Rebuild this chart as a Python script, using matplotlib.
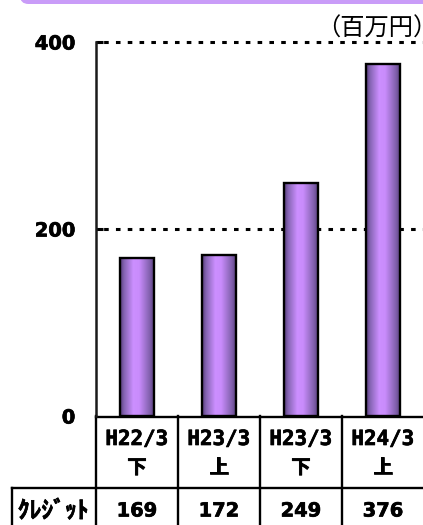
import numpy as np
import matplotlib
matplotlib.use("Agg")
import matplotlib.pyplot as plt
import matplotlib.patheffects as pe
from matplotlib.colors import LinearSegmentedColormap
from matplotlib.patches import FancyBboxPatch
from matplotlib.transforms import blended_transform_factory

plt.rcParams["lines.scale_dashes"] = False

# ---- data ----
periods = ["H22/3", "H23/3", "H23/3", "H24/3"]
halves = ["下", "上", "下", "上"]
credit = [169, 172, 249, 376]
row_label = "ｸﾚｼﾞｯﾄ"
unit_label = "（百万円）"
y_ticks = [0, 200, 400]

W, H = 423, 525
fig = plt.figure(figsize=(W / 100, H / 100), dpi=100)

SANS = "DejaVu Sans"
heavy = [pe.withStroke(linewidth=0.5, foreground="black")]

def yf(y):
    """pixel row (from top) -> figure fraction"""
    return 1 - y / H

# header band across the top
band = FancyBboxPatch((20 / W, yf(4)), 1.0, 20 / H,
                      boxstyle="round,pad=0,rounding_size=0.02",
                      transform=fig.transFigure, facecolor="#C99CF8",
                      edgecolor="none", clip_on=False, mutation_aspect=W / H)
fig.patches.append(band)

# plotting area
ax_left, ax_right, ax_top, ax_bottom = 96, 424, 42, 416
ax = fig.add_axes([ax_left / W, 1 - ax_bottom / H,
                   (ax_right - ax_left) / W, (ax_bottom - ax_top) / H])
ax.patch.set_visible(False)
for s in ["top", "right", "bottom"]:
    ax.spines[s].set_visible(False)
ax.spines["left"].set_linewidth(1.8)
ax.spines["left"].set_color("#1a1a1a")

ax.set_xticks([])
ax.set_yticks(y_ticks)
ax.set_yticklabels([str(v) for v in y_ticks], family=SANS,
                   fontweight="bold", fontsize=14)
for lbl in ax.get_yticklabels():
    lbl.set_path_effects(heavy)
ax.tick_params(axis="y", direction="in", length=5, width=2.2, pad=15,
               color="black")
ax.yaxis.get_major_ticks()[0].tick1line.set_visible(False)

# dotted gridlines
for v in y_ticks[1:]:
    ln = ax.axhline(v, color="black", linewidth=2.2, zorder=1, clip_on=False,
                    linestyle=(3.0, (3.3, 5.2)))
    ln.set_dash_capstyle("butt")

# cylinder-style bars
cmap = LinearSegmentedColormap.from_list(
    "cyl", [(0.0, "#563C78"), (0.12, "#8665B4"), (0.38, "#CC8FFF"),
            (0.55, "#C98CFC"), (0.85, "#8261AE"), (1.0, "#563C78")])
grad = np.linspace(0, 1, 256).reshape(1, -1)
bar_w = 0.415
bars = ax.bar(range(len(credit)), credit, width=bar_w, facecolor="none",
              edgecolor="black", linewidth=1.7, zorder=3)
for b in bars:
    x0 = b.get_x()
    im = ax.imshow(grad, extent=[x0, x0 + bar_w, 0, b.get_height()],
                   aspect="auto", cmap=cmap, zorder=2, interpolation="bilinear")
    im.set_clip_path(b)
ax.set_xlim(-0.5, len(credit) - 0.5)
ax.set_ylim(0, 400)

# data table below the axis
tr = blended_transform_factory(ax.transData, fig.transFigure)
lw = 1.7
table_top, row_split, table_bot = 417, 488, 530
ax.plot([-0.5, len(credit) - 0.5], [yf(table_top)] * 2, transform=tr,
        color="black", lw=lw, clip_on=False)
for i in range(len(credit) + 1):
    ax.plot([i - 0.5, i - 0.5], [yf(table_top - 1), yf(table_bot)], transform=tr,
            color="black", lw=lw, clip_on=False)
# row-label cell
fig.add_artist(plt.Line2D([12 / W, 1], [yf(row_split)] * 2,
                          transform=fig.transFigure, color="black", lw=lw))
fig.add_artist(plt.Line2D([12 / W, 12 / W], [yf(row_split), yf(table_bot)],
                          transform=fig.transFigure, color="black", lw=lw))

for i, (p, h, v) in enumerate(zip(periods, halves, credit)):
    ax.text(i, yf(439), p, transform=tr, ha="center", va="center",
            family="DejaVu Sans Mono", fontweight="bold", fontsize=15,
            path_effects=heavy)
    ax.text(i, yf(468), h, transform=tr, ha="center", va="center",
            family="Noto Sans CJK JP", fontweight="bold", fontsize=14,
            path_effects=heavy)
    ax.text(i, yf(511), str(v), transform=tr, ha="center", va="center",
            family=SANS, fontweight="bold", fontsize=14,
            path_effects=heavy)

fig.text(53 / W, yf(511), row_label, ha="center", va="center",
         family="Noto Sans CJK JP", fontweight="bold", fontsize=17,
         path_effects=heavy)

fig.text(316 / W, yf(28.5), unit_label, ha="left", va="center",
         family="Noto Sans CJK JP", fontsize=17.5)

fig.savefig("out.png", dpi=100)
